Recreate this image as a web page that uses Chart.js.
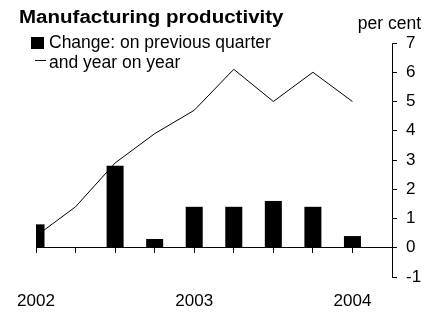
<!DOCTYPE html>
<html>
<head>
<meta charset="utf-8">
<script src="https://cdn.jsdelivr.net/npm/chart.js@4.4.1/dist/chart.umd.min.js"></script>
<style>
  body { margin: 0; background: #fff; }
  #wrap { position: relative; width: 439px; height: 315px; overflow: hidden; font-family: "Liberation Sans", Arial, sans-serif; color: #000; }
  #chart { position: absolute; left: 0; top: 0; }
  .txt { position: absolute; white-space: nowrap; line-height: 1; }
  #title { left: 19px; top: 8px; font-size: 18px; font-weight: bold; transform: scaleX(1.14); transform-origin: left top; }
  #unit { right: 18px; top: 15px; font-size: 17.5px; }
  .leg { left: 49px; font-size: 17.5px; }
  #swatch { position: absolute; left: 31px; top: 37px; width: 13px; height: 12px; background: #000; }
  #dash { position: absolute; left: 35px; top: 60px; width: 11px; height: 1px; background: #000; }
</style>
</head>
<body>
<div id="wrap">
  <canvas id="chart" width="439" height="315"></canvas>
  <div class="txt" id="title">Manufacturing productivity</div>
  <div class="txt" id="unit">per cent</div>
  <div id="swatch"></div>
  <div class="txt leg" style="top:34px">Change: on previous quarter</div>
  <div id="dash"></div>
  <div class="txt leg" style="top:53.5px">and year on year</div>
</div>
<script>
// quarters, 2002 Q1 to 2004 Q2 (last slot left empty)
const quarters = ['2002 Q1', '2002 Q2', '2002 Q3', '2002 Q4', '2003 Q1', '2003 Q2', '2003 Q3', '2003 Q4', '2004 Q1', '2004 Q2'];
const yearLabels = ['2002', '2003', '2004'];
const quarterlyChange = [0.8, 0, 2.8, 0.3, 1.4, 1.4, 1.6, 1.4, 0.4, null];
const yearOnYear = [0.4, 1.4, 2.9, 3.9, 4.7, 6.1, 5.0, 6.0, 5.0, null];
const yTicks = [-1, 0, 1, 2, 3, 4, 5, 6, 7];

const tickFont = { family: '"Liberation Sans", Arial, sans-serif', size: 17 };

const ctx = document.getElementById('chart').getContext('2d');
new Chart(ctx, {
  type: 'bar',
  data: {
    labels: quarters,
    datasets: [
      {
        label: 'Change: on previous quarter',
        data: quarterlyChange,
        backgroundColor: '#000',
        borderWidth: 0,
        barPercentage: 0.43,
        categoryPercentage: 1,
        order: 1
      },
      {
        type: 'line',
        label: 'and year on year',
        data: yearOnYear,
        borderColor: '#000',
        borderWidth: 1,
        pointRadius: 0,
        tension: 0,
        fill: false,
        order: 2
      }
    ]
  },
  options: {
    responsive: false,
    animation: false,
    layout: { padding: { top: 43, left: 36, right: 0, bottom: 0 } },
    plugins: { legend: { display: false }, title: { display: false }, tooltip: { enabled: false } },
    scales: {
      x: {
        type: 'category',
        offset: false,
        position: { y: 0 },
        grid: { offset: false, drawOnChartArea: false, drawTicks: true, tickLength: 5, color: '#000', lineWidth: 1 },
        border: { display: true, color: '#000', width: 1 },
        ticks: { display: false }
      },
      x2: {
        type: 'category',
        labels: quarters,
        offset: false,
        position: 'bottom',
        grid: { display: false, offset: false },
        border: { display: false },
        ticks: {
          autoSkip: false,
          maxRotation: 0,
          padding: 6,
          color: '#000',
          font: tickFont,
          callback: function (v, i) {
            const q = quarters[i];
            return q.endsWith('Q1') && yearLabels.includes(q.slice(0, 4)) ? q.slice(0, 4) : '';
          }
        },
        afterFit: function (s) { s.height = 38; }
      },
      y: {
        position: 'right',
        min: yTicks[0],
        max: yTicks[yTicks.length - 1],
        grid: { drawOnChartArea: false, drawTicks: true, tickLength: 5, color: '#000', lineWidth: 1 },
        border: { display: true, color: '#000', width: 1 },
        ticks: { stepSize: 1, padding: 9, color: '#000', font: tickFont },
        afterFit: function (s) { s.width = 47; }
      }
    }
  }
});
</script>
</body>
</html>
